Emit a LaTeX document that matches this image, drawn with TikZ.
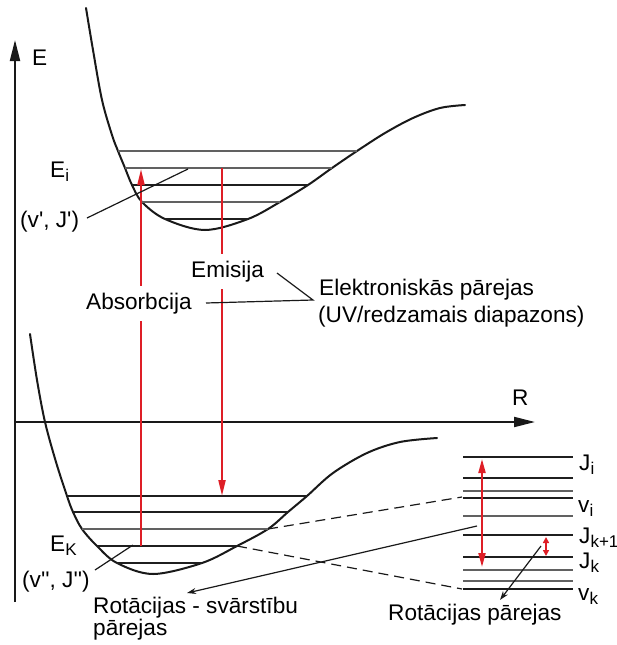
\documentclass[tikz,border=0pt]{standalone}
\usepackage{fontspec}
\setmainfont{Liberation Sans}
\usetikzlibrary{arrows.meta}
\definecolor{arrred}{RGB}{222,30,38}
\newcommand{\sq}{\textquotesingle}
\newcommand{\lowsub}[1]{\raisebox{-4.5pt}{\fontsize{17}{18}\selectfont #1}}
\begin{document}
\begin{tikzpicture}[x=1pt,y=-1pt,
  every node/.style={font=\fontsize{22.6}{26}\selectfont, inner sep=0pt},
  txt/.style={anchor=base west},
  gaplabel/.style={anchor=base west, fill=white, inner xsep=2pt, inner ysep=7pt},
  curve/.style={line width=2pt, black!90, line cap=round},
  axis/.style={line width=2pt, black!90, -{Triangle[length=21pt,width=10pt]}},
  lvl/.style={line width=1.6pt, black!88},
  lvlg/.style={line width=1.4pt, black!62},
  redarr/.style={line width=2pt, arrred, -{Triangle[length=16pt,width=7pt]}},
  leader/.style={line width=1.2pt, black!90},
  leadarr/.style={line width=1.2pt, black!90, -{Stealth[length=9pt,width=6pt]}},
  dashline/.style={line width=1.2pt, black!90, dash pattern=on 10pt off 6pt},
]
\useasboundingbox (0,0) rectangle (617,645);

% axes
\coordinate (Eo) at (15,602);
\coordinate (Et) at (15,40);
\draw[axis] (Eo) -- (Et);
\coordinate (Ro) at (15,422);
\coordinate (Rt) at (535,422);
\draw[axis] (Ro) -- (Rt);
\node[txt] (Elab) at (32,65) {E};
\node[txt] (Rlab) at (512,405) {R};

% upper potential curve
\draw[curve] plot[smooth, tension=0.55] coordinates {(86,8) (93,50) (102,100) (112,135) (118,151) (125,168) (132,185) (142,202) (165,219) (205,230) (248,219) (280,202) (308,185) (332,168) (357,151) (385,133) (413,118) (440,108) (465,105)};
% upper levels
\draw[lvlg] (118,151) -- (357,151);
\draw[lvlg] (125,168) -- (332,168);
\draw[lvl] (132,185) -- (308,185);
\draw[lvlg] (142,202) -- (280,202);
\draw[lvl] (165,219) -- (248,219);

% lower potential curve
\draw[curve] plot[smooth, tension=0.55] coordinates {(30,334) (37,380) (45,422) (56,462) (67,496) (73,512) (82,529) (97,546) (117,563) (153,574) (202,563) (237,546) (268,529) (288,512) (307,496) (333,473) (367,453) (400,442) (437,438)};
% lower levels
\draw[lvl] (67,496) -- (307,496);
\draw[lvl] (73,512) -- (288,512);
\draw[lvlg] (82,529) -- (268,529);
\draw[lvl] (97,546) -- (237,546);
\draw[lvl] (117,563) -- (202,563);

% right ladder
\foreach \yy/\st in {457/lvl,478/lvl,491/lvlg,498/lvl,516/lvlg,535/lvl,557/lvl,570/lvlg,581/lvlg}
  \draw[\st] (463,\yy) -- (573,\yy);
\draw[line width=2pt, black!90] (463,589) -- (573,589);

% dashed connectors
\coordinate (dA1) at (268,529);
\coordinate (dA2) at (462,497);
\coordinate (dB1) at (237,546);
\coordinate (dB2) at (462,589);
\draw[dashline] (dA1) -- (dA2);
\draw[dashline] (dB1) -- (dB2);

% red electronic transitions
\coordinate (absS) at (141,546);
\coordinate (absE) at (141,169);
\draw[redarr] (absS) -- (absE);
\coordinate (emS) at (222,168);
\coordinate (emE) at (222,496);
\draw[redarr] (emS) -- (emE);

% red rotational arrows
\coordinate (rA) at (482,459);
\coordinate (rB) at (482,567);
\draw[line width=2pt, arrred, {Triangle[length=14pt,width=7pt]}-{Triangle[length=14pt,width=7pt]}] (rA) -- (rB);
\coordinate (sA) at (546,537);
\coordinate (sB) at (546,556);
\draw[line width=1.6pt, arrred, {Triangle[length=6pt,width=6pt]}-{Triangle[length=6pt,width=6pt]}] (sA) -- (sB);

% labels on transitions
\node[gaplabel] (emis) at (189,277) {Emisija};
\node[gaplabel] (abso) at (84,309) {Absorbcija};
\node[txt] (elek) at (319,295) {Elektroniskās pārejas};
\node[txt] (uvr) at (318,322) {(UV/redzamais diapazons)};
\coordinate (apex) at (313,300);
\coordinate (emL) at (277,273);
\coordinate (abL) at (206,303);
\draw[leader] (emL) -- (apex) -- (abL);

% state labels
\node[txt] (Ei) at (50,177) {E\lowsub{i}};
\node[txt] (vJu) at (20,227) {(v\sq, J\sq)};
\coordinate (vJuA) at (87,218);
\coordinate (vJuB) at (188,169);
\draw[leader] (vJuA) -- (vJuB);

\node[txt] (Ek) at (50,551) {E\lowsub{K}};
\node[txt] (vJl) at (22,587) {(v\sq\sq, J\sq\sq)};
\coordinate (vJlA) at (95,570);
\coordinate (vJlB) at (133,545);
\draw[leader] (vJlA) -- (vJlB);

% ladder labels
\node[txt] (Ji) at (579,470) {J\lowsub{i}};
\node[txt] (vi) at (578,512) {v\lowsub{i}};
\node[txt] (Jk1) at (579,543) {J\lowsub{k+1}};
\node[txt] (Jk) at (579,568) {J\lowsub{k}};
\node[txt] (vk) at (578,600) {v\lowsub{k}};

% bottom labels and arrows
\node[txt] (rv1) at (93,613) {Rotācijas - svārstību};
\node[txt] (rv2) at (93,635) {pārejas};
\node[txt] (rot) at (388,620) {Rotācijas pārejas};
\coordinate (rvS) at (477,526);
\coordinate (rvE) at (187,593);
\draw[leadarr] (rvS) -- (rvE);
\coordinate (roS) at (541,546);
\coordinate (roE) at (500,600);
\draw[leadarr] (roS) -- (roE);
\end{tikzpicture}
\end{document}
